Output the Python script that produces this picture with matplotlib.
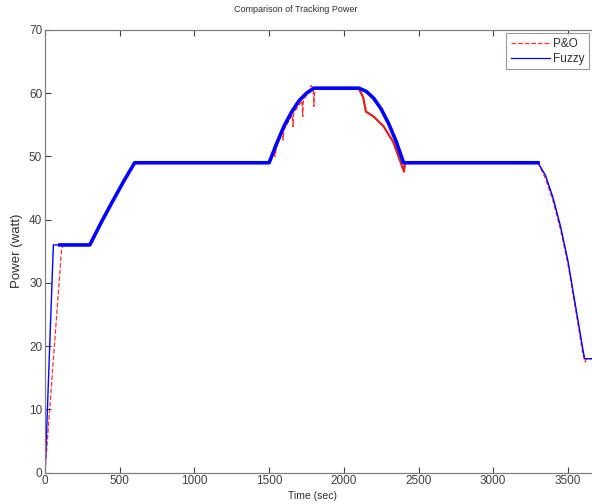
import numpy as np
import matplotlib.pyplot as plt

plt.rcParams['font.family'] = ['Liberation Sans', 'DejaVu Sans']

# Fuzzy controller tracking power
fuzzy_t = [0, 10, 56, 100, 200, 300, 375, 450, 525, 600, 800, 1000, 1200, 1500,
           1550, 1600, 1650, 1700, 1750, 1800, 1900, 2000, 2100, 2150, 2200, 2250,
           2300, 2350, 2400, 2600, 2800, 3000, 3300, 3350, 3400, 3450, 3500, 3550,
           3600, 3612, 3700]
fuzzy_p = [0, 6, 36, 36, 36, 36, 39.5, 42.8, 46, 49, 49, 49, 49, 49,
           52, 54.8, 57, 58.8, 60, 60.8, 60.8, 60.8, 60.8, 60.3, 59.2, 57.5,
           55.2, 52.4, 49, 49, 49, 49, 49, 47, 43.5, 39, 33.5, 26.5,
           19.5, 18, 18]

# P&O controller tracking power
po_t = [0, 110, 120, 300, 375, 450, 525, 600, 1000, 1500, 1530, 1540, 1550, 1590,
        1593, 1600, 1655, 1660, 1665, 1720, 1725, 1730, 1770, 1780, 1795, 1800,
        1805, 2100, 2130, 2148, 2200, 2265, 2331, 2403, 2410, 3000, 3300, 3350,
        3400, 3450, 3500, 3550, 3600, 3615, 3625, 3700]
po_p = [0, 35, 36, 36, 39.5, 42.8, 46, 49, 49, 49, 50.8, 50.0, 51.6, 53.8,
        52.6, 54.2, 56.6, 54.7, 56.9, 58.8, 56.3, 59.0, 60.3, 61.2, 60.8, 57.9,
        60.8, 60.8, 59.3, 57.1, 56.3, 54.8, 52.3, 47.6, 49, 49, 49, 46.5,
        43, 38.5, 33, 26, 18.8, 17.5, 18, 18]

fig = plt.figure(figsize=(5.92, 5.04), dpi=100)
ax = fig.add_axes([45 / 592, 31.5 / 504, 597.6 / 592, 442.5 / 504])

ax.plot(po_t, po_p, color='#ff3030', linestyle='--', linewidth=0.9, label='P&O', zorder=1)
ax.plot(fuzzy_t, fuzzy_p, color='#0000ff', linewidth=1.0, label='Fuzzy', zorder=2)
# thicker band where the fuzzy output oscillates around the MPP
ax.plot(fuzzy_t[3:33], fuzzy_p[3:33], color='#0000ff', linewidth=2.6, zorder=2)
# red part after 2100 s, visible beside the blue
ax.plot(po_t[27:35], po_p[27:35], color='#e02020', linewidth=1.6, zorder=1)

ax.set_xlim(0, 4000)
ax.set_ylim(0, 70)
ax.set_xticks(np.arange(0, 3501, 500))
ax.set_yticks(np.arange(0, 71, 10))
ax.tick_params(direction='in', length=4, top=True, right=True, labelsize=8.5,
               colors='#404040', width=0.8, pad=2)
for s in ax.spines.values():
    s.set_color('#808080')
    s.set_linewidth(0.9)

ax.set_ylabel('Power (watt)', fontsize=9.5, color='#303030', labelpad=4)
fig.text(313 / 592, 1 - 496 / 504, 'Time (sec)', fontsize=7.5, color='#303030',
         ha='center', va='center')
fig.text(296 / 592, 1 - 10 / 504, 'Comparison of Tracking Power', fontsize=6.5,
         color='#303030', ha='center', va='center')

leg = fig.legend(loc='upper left', bbox_to_anchor=(506 / 592, 1 - 33 / 504),
                 fontsize=8.5, frameon=True, fancybox=False, handlelength=3.3,
                 borderpad=0.4, labelspacing=0.25, handletextpad=0.3,
                 borderaxespad=0)
leg.get_frame().set_edgecolor('#808080')
leg.get_frame().set_linewidth(0.8)
for t in leg.get_texts():
    t.set_color('#303030')
for l in leg.get_lines():
    l.set_linewidth(0.9)

fig.savefig('out.png', dpi=100)
